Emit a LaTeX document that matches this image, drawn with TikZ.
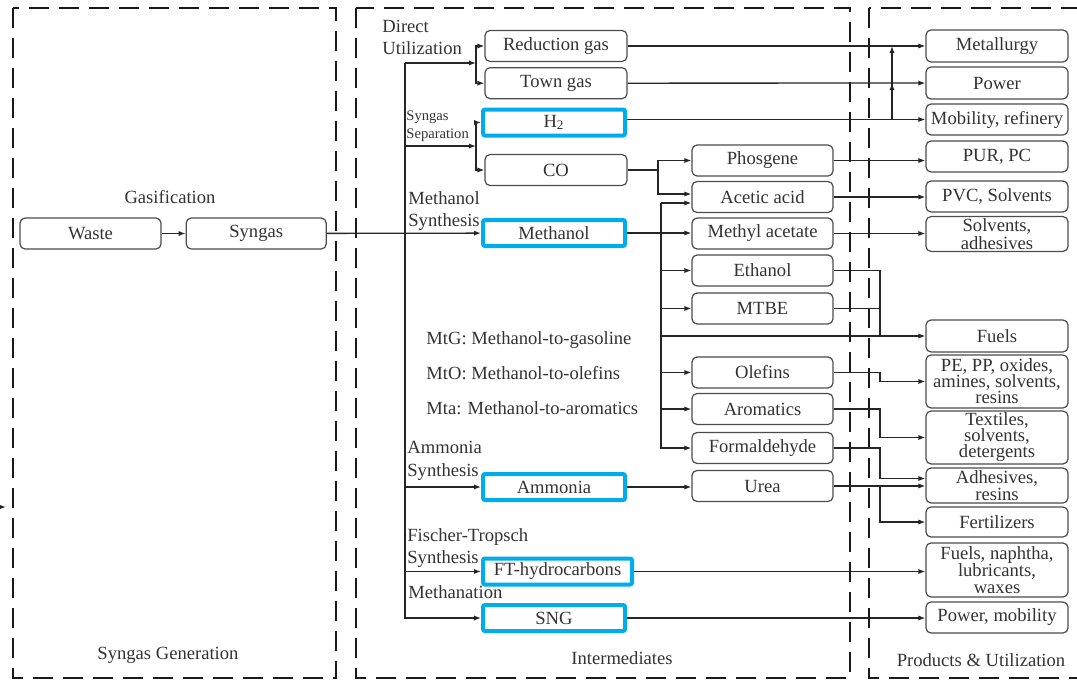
\documentclass[tikz,border=0pt]{standalone}
\usepackage{fontspec}
\setmainfont{Liberation Serif}
\newfontfamily\flowfont{Liberation Serif}
\usepackage{tikz}
\usetikzlibrary{arrows.meta,positioning,calc}
\definecolor{hlblue}{RGB}{0,172,236}
\tikzset{
  flow/box/.style={draw=black!70, fill=white, rounded corners=2.5pt, line width=0.6pt, minimum width=71pt, minimum height=15.5pt, inner sep=1pt, align=center, text=black!80, font=\flowfont\fontsize{9.3}{8}\selectfont},
  flow/hl/.style={flow/box, draw=hlblue, line width=2pt, rounded corners=1pt, minimum height=13pt},
  flow/line/.style={draw=black!85, line width=0.65pt},
  flow/arrow/.style={flow/line, -{Latex[length=3.5pt,width=2.6pt]}},
  flow/panel/.style={draw=black!90, line width=1.4pt, dash pattern=on 10pt off 5pt},
  flow/label/.style={align=left, inner sep=0pt, text=black!80, font=\flowfont\fontsize{9.3}{11.3}\selectfont},
  flow/title/.style={inner sep=0pt, text=black!80, font=\flowfont\fontsize{9.3}{11}\selectfont}
}

\begin{document}
\begin{tikzpicture}[x=0.5pt, y=-0.5pt]
  \useasboundingbox (0,0) rectangle (1077,680);
  \clip (0,0) rectangle (1077,680);

  \draw[flow/panel] (13,8) rectangle (336,678);
  \draw[flow/panel] (356,8) rectangle (850,678);
  \draw[flow/panel] (869,8) rectangle (1100,678);

  \node[flow/title] (gasif) at (170,197) {Gasification};
  \node[flow/title] (gentitle) at (168,655) {Syngas Generation};
  \node[flow/title] (inttitle) at (622,658) {Intermediates};
  \node[flow/title] (prodtitle) at (981,660) {Products \& Utilization};

  \node[flow/label, anchor=west] (dulab) at (382,37.5) {Direct\\Utilization};
  \node[flow/label, anchor=west, font=\flowfont\fontsize{7.3}{9}\selectfont] (seplab) at (406,126) {Syngas\\Separation};
  \node[flow/label, anchor=west] (melab) at (408,211) {Methanol\\Synthesis};
  \node[flow/label, anchor=west] (mtg) at (426,340) {MtG: Methanol-to-gasoline};
  \node[flow/label, anchor=west] (mto) at (426,373) {MtO: Methanol-to-olefins};
  \node[flow/label, anchor=west] (mta) at (426,408) {Mta: Methanol-to-aromatics};
  \node[flow/label, anchor=west] (amlab) at (407,461) {Ammonia\\Synthesis};
  \node[flow/label, anchor=west] (ftlab) at (407,548) {Fischer-Tropsch\\Synthesis};
  \node[flow/label, anchor=west] (methlab) at (408,592) {Methanation};

  \node[flow/box, minimum width=70.5pt] (waste) at (90.5,233.5) {Waste};
  \node[flow/box, minimum width=70pt, right=12pt of waste] (syngas) {Syngas};

  \node[flow/box] (redgas) at (556,46) {Reduction gas};
  \node[flow/box, below=2.5pt of redgas] (towngas) {Town gas};
  \node[flow/hl] (h2) at (554,122.5) {H\textsubscript{2}};
  \node[flow/box] (co) at (556,170) {CO};
  \node[flow/hl] (methanol) at (554,233) {Methanol};
  \node[flow/hl] (ammonia) at (554,487) {Ammonia};
  \node[flow/hl, minimum width=74.5pt] (ft) at (557.5,571.5) {FT-hydrocarbons};
  \node[flow/hl] (sng) at (554,618) {SNG};

  \node[flow/box, minimum width=70.5pt] (phosgene) at (762.5,160.5) {Phosgene};
  \node[flow/box, minimum width=70.5pt] (acetic) at (762.5,197) {Acetic acid};
  \node[flow/box, minimum width=70.5pt] (metacet) at (762.5,233.5) {Methyl acetate};
  \node[flow/box, minimum width=70.5pt] (ethanol) at (762.5,270.5) {Ethanol};
  \node[flow/box, minimum width=70.5pt] (mtbe) at (762.5,308.5) {MTBE};
  \node[flow/box, minimum width=70.5pt] (olefins) at (762.5,372.5) {Olefins};
  \node[flow/box, minimum width=70.5pt] (aromatics) at (762.5,409) {Aromatics};
  \node[flow/box, minimum width=70.5pt] (formald) at (762.5,448) {Formaldehyde};
  \node[flow/box, minimum width=70.5pt] (urea) at (762.5,486) {Urea};

  \node[flow/box, minimum height=16pt] (metal) at (997,46) {Metallurgy};
  \node[flow/box, minimum height=16pt] (power) at (997,83) {Power};
  \node[flow/box] (mobil) at (997,119.5) {Mobility, refinery};
  \node[flow/box] (pur) at (997,156.5) {PUR, PC};
  \node[flow/box] (pvc) at (997,196.5) {PVC, Solvents};
  \node[flow/box, minimum height=16pt, font=\flowfont\fontsize{9.3}{7}\selectfont] (solvadh) at (997,234) {Solvents,\\adhesives};
  \node[flow/box, minimum height=16pt] (fuels) at (997,336) {Fuels};
  \node[flow/box, minimum height=26.5pt] (pepp) at (997,381.5) {PE, PP, oxides,\\amines, solvents,\\resins};
  \node[flow/box, minimum height=25.5pt] (textiles) at (997,437.5) {Textiles,\\solvents,\\detergents};
  \node[flow/box, minimum height=17.5pt, font=\flowfont\fontsize{9.3}{7.5}\selectfont] (adhes) at (997,485.5) {Adhesives,\\resins};
  \node[flow/box, minimum height=15pt] (fert) at (997,522) {Fertilizers};
  \node[flow/box, minimum height=27pt, font=\flowfont\fontsize{9.3}{8.5}\selectfont] (fnlw) at (997,570) {Fuels, naphtha,\\lubricants,\\waxes};
  \node[flow/box] (powmob) at (997,617.5) {Power, mobility};

  \coordinate (trunk) at (405,63);
  \coordinate (duSplit) at (476,63);
  \coordinate (sepSplit) at (476,146);
  \coordinate (coSplit) at (658,170);
  \coordinate (meTop) at (661,203);
  \coordinate (hUp) at (892,120);
  \coordinate (fuelsx) at (880,336);
  \coordinate (stray) at (-20,507);
  \coordinate (strayTip) at (6,507);

  \draw[flow/arrow] (stray) -- (strayTip);
  \draw[flow/arrow] (waste) -- (syngas);
  \draw[flow/arrow] (syngas) -- (methanol);
  \draw[flow/arrow] (trunk) |- (sng);
  \draw[flow/arrow] (trunk) -- (duSplit);
  \draw[flow/arrow] (duSplit) |- (redgas);
  \draw[flow/arrow] (duSplit) |- (towngas);
  \draw[flow/arrow] (trunk |- sepSplit) -- (sepSplit);
  \draw[flow/arrow] (sepSplit) |- (h2);
  \draw[flow/arrow] (sepSplit) |- (co);
  \draw[flow/arrow] (trunk |- ammonia) -- (ammonia);
  \draw[flow/arrow] (trunk |- ft) -- (ft);

  \draw[flow/arrow] (redgas) -- (metal);
  \draw[flow/arrow] (towngas) -- (power);
  \draw[flow/arrow] (h2.east |- mobil) -- (mobil);
  \draw[flow/arrow] (hUp) -- (hUp |- power);
  \draw[flow/arrow] (hUp) -- (hUp |- metal);

  \draw[flow/arrow] (co) -- (coSplit) |- (phosgene);
  \draw[flow/arrow] (coSplit) |- ($(acetic.west)+(0,-3)$);
  \draw[flow/arrow] (methanol) -- (methanol -| metacet.west);
  \draw[flow/arrow] (meTop) -- ($(acetic.west)+(0,6)$);
  \draw[flow/arrow] (meTop) |- (formald);
  \foreach \n in {ethanol,mtbe,olefins,aromatics}
    \draw[flow/arrow] (meTop |- \n) -- (\n);
  \draw[flow/arrow] (meTop |- fuels) -- (fuels);
  \draw[flow/arrow] (ammonia) -- (ammonia -| urea.west);

  \draw[flow/arrow] (phosgene) -- (phosgene -| pur.west);
  \draw[flow/arrow] (acetic) -- (acetic -| pvc.west);
  \draw[flow/arrow] (metacet) -- (metacet -| solvadh.west);
  \draw[flow/line] (ethanol) -| (fuelsx);
  \draw[flow/line] (mtbe) -- (mtbe -| fuelsx);
  \draw[flow/arrow] (olefins) -| (fuelsx |- pepp) -- (pepp);
  \draw[flow/arrow] (aromatics) -| (fuelsx |- textiles) -- (textiles);
  \draw[flow/arrow] (formald) -| ($(fuelsx |- adhes)+(0,-7)$) -- ($(adhes.west)+(0,-7)$);
  \draw[flow/arrow] (urea) -- (urea -| adhes.west);
  \draw[flow/arrow] (fuelsx |- urea) |- (fert);
  \draw[flow/arrow] (ft) -- (ft -| fnlw.west);
  \draw[flow/arrow] (sng) -- (sng -| powmob.west);
\end{tikzpicture}
\end{document}
